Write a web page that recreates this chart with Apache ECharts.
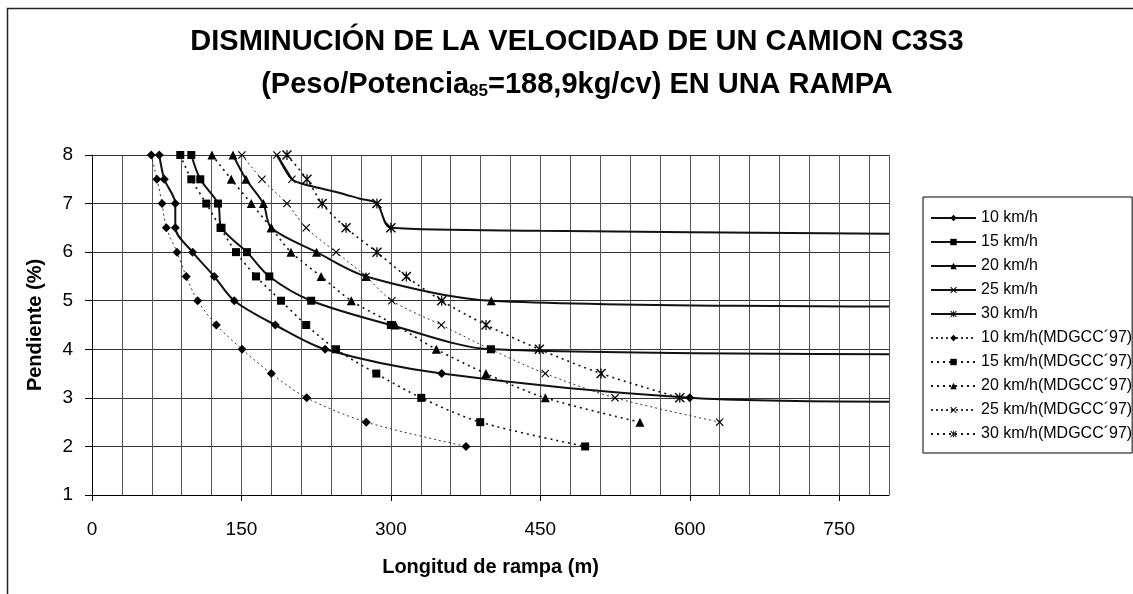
<!DOCTYPE html>
<html><head><meta charset="utf-8">
<script src="https://cdn.jsdelivr.net/npm/echarts@6/dist/echarts.min.js"></script>
<style>html,body{margin:0;padding:0;background:#fff}#c{width:1133px;height:594px}</style>
</head><body><div id="c"></div>
<script>
// ---- text ----
const titleLine1 = 'DISMINUCIÓN DE LA VELOCIDAD DE UN CAMION C3S3';
const titleLine2a = '(Peso/Potencia';
const titleSub = '85';
const titleLine2b = '=188,9kg/cv) EN UNA RAMPA';
const xName = 'Longitud de rampa (m)';
const yName = 'Pendiente (%)';
const xTickLabels = [0, 150, 300, 450, 600, 750];
const yTickLabels = [1, 2, 3, 4, 5, 6, 7, 8];
const seriesNames = ['10 km/h', '15 km/h', '20 km/h', '25 km/h', '30 km/h',
  '10 km/h(MDGCC´97)', '15 km/h(MDGCC´97)', '20 km/h(MDGCC´97)', '25 km/h(MDGCC´97)', '30 km/h(MDGCC´97)'];

// ---- data: [longitud (m), pendiente (%)] ----
const v10 = [[67.5,8],[72.6,7.5],[83.6,7],[83.6,6.5],[101,6],[122.7,5.5],[142.8,5],[184,4.5],[234,4],[351,3.5],[600,3],[800,2.92]];
const v15 = [[99.7,8],[108.7,7.5],[126.5,7],[130,6.5],[155.6,6],[178,5.5],[220,5],[300,4.5],[400.5,4],[800,3.9]];
const v20 = [[141.5,8],[154.6,7.5],[172,7],[180,6.5],[225.4,6],[275,5.5],[400.8,5],[800,4.88]];
const v25 = [[185.6,8],[200.7,7.5]];
const v30 = [[181,8.15],[185.6,8],[200.7,7.5],[220,7.36],[245,7.24],[269,7.1],[286,7],[300,6.5],[450,6.44],[800,6.38]];
const m10 = [[59.5,8],[65.2,7.5],[70.3,7],[74.6,6.5],[85.3,6],[94.6,5.5],[106,5],[124.8,4.5],[150.6,4],[180,3.5],[215.5,3],[275.3,2.5],[375.4,2]];
const m15 = [[88.6,8],[99.7,7.5],[114.7,7],[129,6.5],[144.5,6],[164.6,5.5],[189.7,5],[215,4.5],[245,4],[285.4,3.5],[330.5,3],[389.7,2.5],[495,2]];
const m20 = [[120.4,8],[139.8,7.5],[159.9,7],[180,6.5],[199.7,6],[230,5.5],[260.3,5],[304.5,4.5],[345.6,4],[395.5,3.5],[455,3],[550,2.5]];
const m25 = [[150.5,8],[170.6,7.5],[195.7,7],[215,6.5],[245,6],[275,5.5],[301,5],[350.6,4.5],[400,4],[455,3.5],[525,3],[630,2.5]];
const m30 = [[195.7,8],[215.8,7.5],[231,7],[255,6.5],[286,6],[315.5,5.5],[351,5],[395.5,4.5],[449,4],[511,3.5],[590,3]];
// indices of points that carry a marker (others are curve-only points)
const marked10 = [0,1,2,3,4,5,6,7,8,9,10];
const marked15 = [0,1,2,3,4,5,6,7,8];
const marked20 = [0,1,2,3,4,5,6];
const marked25 = [0,1];
const marked30 = [6,7];

const X_PATH = 'path://M0,1L1,0L5,4L9,0L10,1L6,5L10,9L9,10L5,6L1,10L0,9L4,5Z';
const STAR_PATH = 'path://M0,1L1,0L5,4L9,0L10,1L6,5L10,9L9,10L5,6L1,10L0,9L4,5ZM4.4,0L5.6,0L5.6,10L4.4,10Z';

function mk(name, vals, marked, symbol, size, lineStyle) {
  return {
    name, type: 'line', smooth: 0.3, symbol, symbolSize: size, showAllSymbol: true,
    data: vals.map((v, i) => (marked === null || marked.includes(i)) ? v : { value: v, symbol: 'none' }),
    lineStyle, itemStyle: { color: '#000', borderWidth: 0 },
    emphasis: { disabled: true }
  };
}
const solid = { color: '#111', width: 2, type: 'solid' };
const dotThin = { color: '#333', width: 1, type: [2, 3] };
const dotBold = { color: '#111', width: 1.6, type: [2, 4] };

const series = [
  mk(seriesNames[0], v10, marked10, 'diamond', 9, solid),
  mk(seriesNames[1], v15, marked15, 'rect', 8, solid),
  mk(seriesNames[2], v20, marked20, 'triangle', 9, solid),
  mk(seriesNames[3], v25, marked25, X_PATH, 8, solid),
  mk(seriesNames[4], v30, marked30, STAR_PATH, 10, solid),
  mk(seriesNames[5], m10, null, 'diamond', 9, dotThin),
  mk(seriesNames[6], m15, null, 'rect', 8, dotBold),
  mk(seriesNames[7], m20, null, 'triangle', 9, dotBold),
  mk(seriesNames[8], m25, null, X_PATH, 8, dotThin),
  mk(seriesNames[9], m30, null, STAR_PATH, 10, dotBold)
];

const FONT = 'Liberation Sans, Arial, sans-serif';
const chart = echarts.init(document.getElementById('c'), null, { renderer: 'canvas' });
chart.setOption({
  animation: false,
  backgroundColor: '#fff',
  textStyle: { fontFamily: FONT, color: '#000' },
  title: {
    left: 577, top: 20, padding: 0, textAlign: 'center',
    text: '{t|' + titleLine1 + '}\n{t|' + titleLine2a + '}{s|' + titleSub + '}{t|' + titleLine2b + '}',
    textStyle: {
      rich: {
        t: { fontSize: 29, fontWeight: 'bold', fontFamily: FONT, color: '#000', lineHeight: 43 },
        s: { fontSize: 17, fontWeight: 'bold', fontFamily: FONT, color: '#000', verticalAlign: 'middle', padding: [13, 0, 0, 0] }
      }
    }
  },
  graphic: [{
    type: 'rect', silent: true, z: -1,
    shape: { x: 7.5, y: 8.5, width: 1300, height: 800 },
    style: { fill: 'none', stroke: '#222', lineWidth: 1.5 }
  }],
  legend: {
    orient: 'vertical', left: 923, top: 197,
    padding: [13, 0, 11, 7],
    borderColor: '#000', borderWidth: 1,
    itemWidth: 45, itemHeight: 8, itemGap: 8,
    textStyle: { fontSize: 16, fontFamily: FONT, color: '#000' },
    data: seriesNames
  },
  grid: { left: 92, top: 155, width: 797, height: 340 },
  xAxis: [{
    type: 'value', min: 0, max: 800, interval: 150,
    axisLine: { show: true, lineStyle: { color: '#000', width: 1 } },
    axisTick: { show: true, length: 6, customValues: xTickLabels, lineStyle: { color: '#000' } },
    axisLabel: { customValues: xTickLabels, fontSize: 19, color: '#000', margin: 25, fontFamily: FONT },
    splitLine: { show: false },
    name: xName, nameLocation: 'middle', nameGap: 62,
    nameTextStyle: { fontSize: 20, fontWeight: 'bold', color: '#000', fontFamily: FONT }
  }, {
    type: 'value', min: 0, max: 800, interval: 30, position: 'bottom',
    axisLine: { show: false }, axisTick: { show: false }, axisLabel: { show: false },
    splitLine: { show: true, lineStyle: { color: '#555', width: 1 } }
  }],
  yAxis: {
    type: 'value', min: 1, max: 8, interval: 1,
    axisLine: { show: true, lineStyle: { color: '#000', width: 1 } },
    axisTick: { show: true, length: 7, lineStyle: { color: '#000' } },
    axisLabel: { fontSize: 19, color: '#000', margin: 19, fontFamily: FONT },
    splitLine: { show: true, lineStyle: { color: '#333', width: 1 } },
    name: yName, nameLocation: 'middle', nameGap: 47, nameRotate: 90,
    nameTextStyle: { fontSize: 20, fontWeight: 'bold', color: '#000', fontFamily: FONT }
  },
  series: series
});
</script>
</body></html>
